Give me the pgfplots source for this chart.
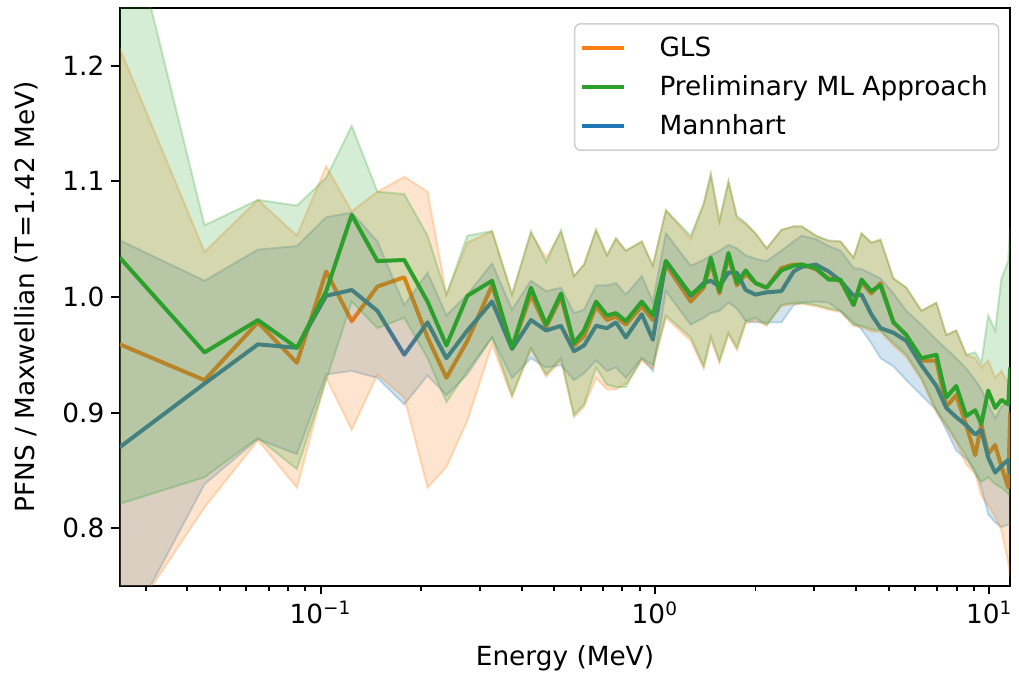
\documentclass[border=0pt]{standalone}
\usepackage{fontspec}
\setmainfont{DejaVu Sans}
\usepackage{pgfplots}
\pgfplotsset{compat=1.18}
\usepgfplotslibrary{fillbetween}
\usepackage{pgfplotstable}
\definecolor{cblue}{HTML}{1F77B4}
\definecolor{corange}{HTML}{FF7F0E}
\definecolor{cgreen}{HTML}{2CA02C}

\pgfplotstableread{
x      by    blo   bhi   oy    olo   ohi   gy    glo   ghi
0.0251 0.870 0.700 1.049 0.959 0.708 1.215 1.034 0.821 1.360
0.045  0.925 0.838 1.014 0.928 0.818 1.039 0.952 0.844 1.062
0.065  0.959 0.877 1.041 0.978 0.876 1.084 0.980 0.878 1.084
0.085  0.956 0.864 1.044 0.943 0.835 1.053 0.956 0.851 1.079
0.104  1.001 0.933 1.069 1.022 0.930 1.113 1.005 0.928 1.103
0.124  1.006 0.936 1.073 0.979 0.885 1.074 1.071 0.996 1.148
0.148  0.988 0.930 1.048 1.009 0.933 1.091 1.031 0.973 1.091
0.178  0.950 0.907 0.993 1.017 0.913 1.104 1.032 0.982 1.089
0.209  0.978 0.932 1.021 0.965 0.835 1.091 0.996 0.947 1.053
0.238  0.947 0.915 0.984 0.930 0.853 1.002 0.958 0.909 1.002
0.275  0.971 0.933 1.002 0.962 0.893 1.047 1.001 0.936 1.053
0.326  0.996 0.965 1.029 1.010 0.959 1.057 1.014 0.965 1.057
0.374  0.955 0.930 0.989 0.956 0.913 1.002 0.956 0.915 1.002
0.426  0.980 0.947 1.014 1.002 0.955 1.055 1.008 0.956 1.057
0.473  0.971 0.939 1.005 0.974 0.931 1.034 0.976 0.933 1.030
0.524  0.975 0.941 1.008 1.000 0.945 1.056 1.003 0.947 1.058
0.573  0.953 0.928 0.986 0.958 0.896 1.018 0.960 0.898 1.018
0.614  0.958 0.934 0.989 0.966 0.905 1.028 0.971 0.907 1.028
0.667  0.975 0.945 1.010 0.992 0.930 1.058 0.996 0.939 1.058
0.719  0.973 0.936 1.010 0.980 0.920 1.036 0.984 0.924 1.036
0.765  0.978 0.939 1.012 0.983 0.920 1.050 0.986 0.922 1.051
0.819  0.965 0.930 1.002 0.976 0.925 1.040 0.979 0.922 1.040
0.914  0.985 0.947 1.018 0.992 0.945 1.048 0.996 0.947 1.048
0.986  0.963 0.936 0.996 0.980 0.938 1.027 0.984 0.941 1.027
1.079  1.031 1.005 1.055 1.028 0.982 1.075 1.031 0.984 1.075
1.28   1.001 0.976 1.027 0.996 0.962 1.050 1.002 0.965 1.053
1.40   1.012 0.982 1.032 1.008 0.938 1.080 1.010 0.940 1.081
1.47   1.014 0.986 1.036 1.030 0.963 1.105 1.034 0.966 1.107
1.56   1.009 0.988 1.040 1.003 0.943 1.065 1.005 0.945 1.066
1.66   1.021 0.995 1.045 1.035 0.967 1.100 1.038 0.969 1.100
1.76   1.021 0.990 1.042 1.010 0.954 1.068 1.012 0.956 1.070
1.87   1.006 0.979 1.036 1.020 0.977 1.063 1.023 0.979 1.064
2.00   1.002 0.978 1.033 1.012 0.980 1.055 1.012 0.982 1.055
2.16   1.004 0.978 1.031 1.008 0.975 1.042 1.008 0.976 1.042
2.39   1.005 0.978 1.040 1.025 0.992 1.058 1.023 0.993 1.058
2.60   1.022 0.993 1.048 1.028 0.994 1.061 1.027 0.995 1.061
2.75   1.026 0.995 1.053 1.028 0.994 1.061 1.028 0.995 1.061
3.03   1.028 0.996 1.050 1.024 0.992 1.053 1.025 0.993 1.053
3.31   1.022 0.995 1.044 1.016 0.989 1.048 1.015 0.990 1.049
3.59   1.014 0.988 1.040 1.014 0.987 1.048 1.015 0.988 1.048
3.93   1.001 0.978 1.025 0.993 0.975 1.034 0.993 0.976 1.034
4.15   1.002 0.972 1.024 1.013 0.974 1.055 1.015 0.975 1.055
4.44   0.985 0.960 1.020 1.003 0.970 1.047 1.005 0.972 1.047
4.73   0.973 0.947 1.016 1.012 0.970 1.050 1.010 0.971 1.049
5.17   0.969 0.940 1.003 0.978 0.958 1.016 0.978 0.960 1.016
5.65   0.962 0.928 0.988 0.967 0.948 1.008 0.967 0.950 1.008
6.27   0.941 0.915 0.976 0.945 0.928 0.988 0.947 0.930 0.988
6.95   0.923 0.902 0.963 0.945 0.900 0.995 0.950 0.902 0.995
7.44   0.904 0.885 0.955 0.905 0.888 0.967 0.913 0.890 0.967
7.97   0.896 0.867 0.947 0.915 0.874 0.971 0.923 0.876 0.971
8.54   0.889 0.860 0.938 0.889 0.855 0.950 0.897 0.862 0.950
9.08   0.881 0.850 0.928 0.863 0.847 0.947 0.902 0.847 0.952
9.47   0.885 0.835 0.920 0.890 0.828 0.939 0.890 0.840 0.943
9.93   0.861 0.812 0.907 0.864 0.820 0.945 0.919 0.844 0.984
10.42  0.848 0.805 0.895 0.872 0.810 0.930 0.904 0.838 0.971
10.88  0.854 0.801 0.905 0.853 0.798 0.936 0.911 0.835 1.016
11.40  0.859 0.803 0.910 0.835 0.770 0.925 0.907 0.830 1.031
11.55  0.847 0.803 0.900 0.900 0.758 0.920 0.939 0.827 1.060
}\data

\begin{document}
\begin{tikzpicture}
\begin{axis}[
  scale only axis, width=446pt, height=289.5pt,
  xmode=log, xmin=0.0251, xmax=11.55, ymin=0.75, ymax=1.25,
  font=\fontsize{13.2}{15.8}\selectfont,
  axis line style={line width=1pt},
  every tick/.style={black, line width=1pt},
  tick align=outside, tick pos=left,
  major tick length=4.2pt, minor tick length=2.4pt,
  xtick={0.1,1,10},
  xticklabels={10\textsuperscript{−1},10\textsuperscript{0},10\textsuperscript{1}},
  minor xtick={0.03,0.04,0.05,0.06,0.07,0.08,0.09,0.2,0.3,0.4,0.5,0.6,0.7,0.8,0.9,2,3,4,5,6,7,8,9},
  ytick={0.8,0.9,1.0,1.1,1.2},
  yticklabels={0.8,0.9,1.0,1.1,1.2},
  xlabel={Energy (MeV)},
  ylabel={PFNS / Maxwellian (T=1.42 MeV)},
  every axis x label/.style={at={(0.5,-0.126)}, anchor=center},
  every axis y label/.style={at={(-0.1054,0.5)}, anchor=center, rotate=90},
  fill between/on layer=main,
  legend style={at={(rel axis cs:0.988,0.974)}, anchor=north east,
    draw=black!18, line width=0.8pt, rounded corners=3pt, fill=white, fill opacity=0.8, text opacity=1,
    inner xsep=2.5pt, inner ysep=4.5pt, row sep=4pt,
    nodes={inner xsep=3pt}},
  legend cell align=left,
  legend image code/.code={\draw[#1, line width=2pt] (0pt,0pt) -- (21pt,0pt); \path[draw=none,fill=none] (0pt,0pt) -- (36pt,0pt);},
]
\addlegendimage{corange}
\addlegendentry{GLS}
\addlegendimage{cgreen}
\addlegendentry{Preliminary ML Approach}
\addlegendimage{cblue}
\addlegendentry{Mannhart}

% lines of GLS and Mannhart
\addplot[corange, line width=2pt, line join=round, forget plot] table[x=x,y=oy]{\data};
\addplot[cblue, line width=2pt, line join=round, forget plot] table[x=x,y=by]{\data};

% Mannhart band
\addplot[name path=bh, draw=cblue, draw opacity=0.25, line width=1pt, forget plot] table[x=x,y=bhi]{\data};
\addplot[name path=bl, draw=cblue, draw opacity=0.25, line width=1pt, forget plot] table[x=x,y=blo]{\data};
\addplot[fill=cblue, fill opacity=0.2, forget plot] fill between[of=bh and bl];

% GLS band
\addplot[name path=oh, draw=corange, draw opacity=0.25, line width=1pt, forget plot] table[x=x,y=ohi]{\data};
\addplot[name path=ol, draw=corange, draw opacity=0.25, line width=1pt, forget plot] table[x=x,y=olo]{\data};
\addplot[fill=corange, fill opacity=0.2, forget plot] fill between[of=oh and ol];

% ML
\addplot[cgreen, line width=2pt, line join=round, forget plot] table[x=x,y=gy]{\data};
\addplot[name path=gh, draw=cgreen, draw opacity=0.25, line width=1pt, forget plot] table[x=x,y=ghi]{\data};
\addplot[name path=gl, draw=cgreen, draw opacity=0.25, line width=1pt, forget plot] table[x=x,y=glo]{\data};
\addplot[fill=cgreen, fill opacity=0.2, forget plot] fill between[of=gh and gl];

\coordinate (bbl) at (rel axis cs:0,0);
\coordinate (btr) at (rel axis cs:1,1);
\end{axis}
\path ([xshift=-60pt,yshift=-44.5pt]bbl) rectangle ([xshift=3.5pt,yshift=4pt]btr);
\end{tikzpicture}
\end{document}
